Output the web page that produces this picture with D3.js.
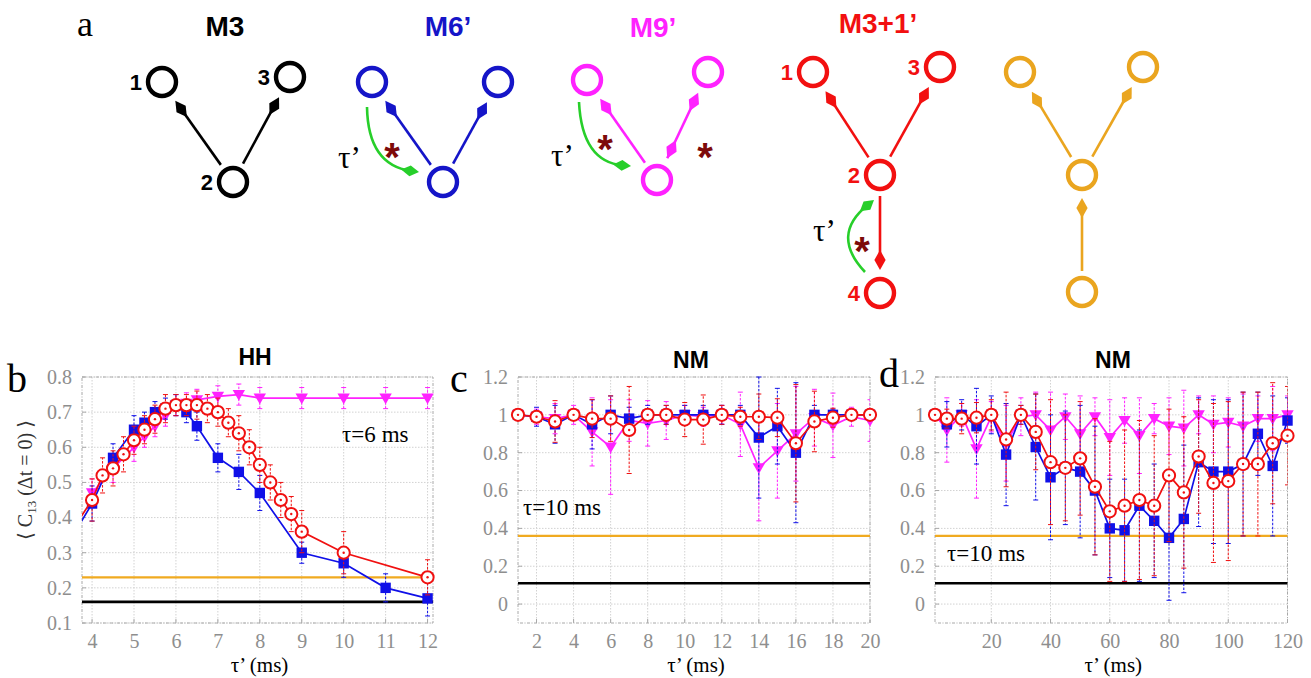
<!DOCTYPE html>
<html>
<head>
<meta charset="utf-8">
<script src="https://cdn.jsdelivr.net/npm/d3@7"></script>
<style>
  body { margin: 0; background: #ffffff; }
  svg { display: block; }
</style>
</head>
<body>
<svg id="fig" width="1311" height="678"></svg>
<script>
// ---------- panel b (HH, tau = 6 ms) ----------
const hhTauM6  = [3.5, 4, 4.5, 5, 5.25, 5.5, 5.75, 6, 6.25, 6.5, 7, 7.5, 8, 9, 10, 11, 12];
const hhM6     = [0.34, 0.44, 0.57, 0.65, 0.67, 0.70, 0.71, 0.72, 0.70, 0.66, 0.57, 0.53, 0.47, 0.30, 0.27, 0.20, 0.17];
const hhM6Err  = [0.04, 0.05, 0.04, 0.04, 0.03, 0.03, 0.03, 0.03, 0.03, 0.04, 0.04, 0.05, 0.05, 0.03, 0.04, 0.04, 0.05];

const hhTauM31 = [3.5, 4, 4.25, 4.5, 4.75, 5, 5.25, 5.5, 5.75, 6, 6.25, 6.5, 6.75, 7, 7.25, 7.5, 7.75, 8, 8.25, 8.5, 8.75, 9, 10, 12];
const hhM31    = [0.36, 0.45, 0.52, 0.54, 0.58, 0.62, 0.65, 0.68, 0.71, 0.72, 0.72, 0.72, 0.71, 0.70, 0.67, 0.64, 0.60, 0.55, 0.50, 0.45, 0.41, 0.36, 0.30, 0.23];
const hhM31Err = [0.05, 0.06, 0.05, 0.05, 0.05, 0.04, 0.04, 0.04, 0.04, 0.03, 0.03, 0.04, 0.04, 0.04, 0.04, 0.05, 0.05, 0.05, 0.05, 0.05, 0.05, 0.06, 0.06, 0.05];

const hhTauM9  = [4, 4.5, 5, 5.25, 5.5, 5.75, 6, 6.25, 6.5, 7, 7.5, 8, 9, 10, 11, 12];
const hhM9     = [0.47, 0.54, 0.60, 0.63, 0.66, 0.69, 0.72, 0.725, 0.735, 0.745, 0.75, 0.74, 0.74, 0.74, 0.74, 0.74];
const hhM9Err  = [0.04, 0.04, 0.04, 0.03, 0.03, 0.03, 0.03, 0.03, 0.03, 0.03, 0.03, 0.03, 0.03, 0.03, 0.03, 0.03];

const hhRefM3  = 0.16;   // black line
const hhRefY   = 0.23;   // orange line

// ---------- panel c (NM, tau = 10 ms) ----------
const nmShortTau   = [1, 2, 3, 4, 5, 6, 7, 8, 9, 10, 11, 12, 13, 14, 15, 16, 17, 18, 19, 20];
const nmShortM6    = [1.0, 0.99, 0.95, 1.0, 0.95, 1.0, 0.98, 1.0, 1.0, 1.0, 1.0, 1.0, 1.0, 0.88, 0.94, 0.80, 1.0, 1.0, 1.0, 1.0];
const nmShortM6Err = [0.01, 0.05, 0.10, 0.02, 0.13, 0.10, 0.06, 0.05, 0.05, 0.05, 0.05, 0.05, 0.05, 0.32, 0.20, 0.37, 0.05, 0.03, 0.03, 0.03];
const nmShortM31   = [1.0, 0.99, 0.965, 1.0, 0.98, 0.98, 0.92, 1.0, 1.0, 0.975, 0.975, 1.0, 0.99, 0.99, 0.985, 0.85, 0.965, 0.985, 1.0, 1.0];
const nmShortM31Err= [0.01, 0.03, 0.11, 0.02, 0.10, 0.12, 0.23, 0.03, 0.05, 0.09, 0.13, 0.05, 0.05, 0.12, 0.10, 0.31, 0.16, 0.05, 0.03, 0.03];
const nmShortM9    = [1.0, 0.99, 0.98, 1.0, 0.91, 0.83, 0.97, 0.955, 0.97, 1.0, 0.99, 1.0, 0.95, 0.72, 0.81, 0.90, 0.985, 0.945, 0.99, 0.97];
const nmShortM9Err = [0.02, 0.04, 0.08, 0.05, 0.18, 0.25, 0.11, 0.12, 0.10, 0.05, 0.05, 0.05, 0.17, 0.28, 0.25, 0.25, 0.15, 0.17, 0.05, 0.11];

// ---------- panel d (NM, tau = 10 ms, long tau') ----------
const nmLongTau    = [1, 5, 10, 15, 20, 25, 30, 35, 40, 45, 50, 55, 60, 65, 70, 75, 80, 85, 90, 95, 100, 105, 110, 115, 120];
const nmLongM6     = [1.0, 0.95, 1.0, 0.94, 1.0, 0.79, 1.0, 0.83, 0.67, 0.72, 0.70, 0.60, 0.40, 0.39, 0.52, 0.44, 0.35, 0.45, 0.75, 0.70, 0.70, 0.74, 0.90, 0.73, 0.97];
const nmLongM6Err  = [0.02, 0.12, 0.08, 0.20, 0.10, 0.27, 0.05, 0.28, 0.33, 0.30, 0.35, 0.34, 0.26, 0.27, 0.40, 0.30, 0.33, 0.39, 0.34, 0.38, 0.38, 0.38, 0.22, 0.37, 0.12];
const nmLongM31    = [1.0, 0.98, 0.98, 0.985, 1.0, 0.87, 1.0, 0.91, 0.75, 0.72, 0.77, 0.62, 0.49, 0.52, 0.55, 0.52, 0.68, 0.59, 0.78, 0.64, 0.65, 0.74, 0.74, 0.85, 0.89];
const nmLongM31Err = [0.02, 0.05, 0.08, 0.08, 0.08, 0.25, 0.05, 0.20, 0.33, 0.28, 0.30, 0.36, 0.37, 0.40, 0.42, 0.37, 0.35, 0.40, 0.30, 0.42, 0.42, 0.38, 0.38, 0.32, 0.26];
const nmLongM9     = [1.0, 0.92, 1.0, 0.82, 0.99, 0.85, 0.99, 1.0, 0.92, 0.99, 0.90, 0.99, 0.88, 0.97, 0.89, 0.98, 0.94, 0.93, 1.0, 0.95, 0.96, 0.94, 0.98, 0.98, 1.0];
const nmLongM9Err  = [0.02, 0.17, 0.06, 0.26, 0.08, 0.20, 0.10, 0.12, 0.20, 0.12, 0.20, 0.10, 0.20, 0.12, 0.20, 0.08, 0.15, 0.20, 0.10, 0.15, 0.13, 0.17, 0.12, 0.17, 0.10];

const nmRefM3 = 0.11;   // black line
const nmRefY  = 0.36;   // orange line

// tick labels
const hhXTicks = [4, 5, 6, 7, 8, 9, 10, 11, 12];
const hhYTicks = [0.1, 0.2, 0.3, 0.4, 0.5, 0.6, 0.7, 0.8];
const nmShortXTicks = [2, 4, 6, 8, 10, 12, 14, 16, 18, 20];
const nmLongXTicks  = [20, 40, 60, 80, 100, 120];
const nmYTicks = [0, 0.2, 0.4, 0.6, 0.8, 1, 1.2];

// ---------- styling ----------
const C = {
  m6: "#1010e8",
  m31: "#f01010",
  m9: "#ff22ff",
  yref: "#f0aa20",
  m3: "#000000",
  green: "#27cf2a",
  star: "#7d0a0a",
  grid: "#d2d2d2",
  frame: "#a8a8a8",
  tick: "#8e8e8e"
};
const SERIF = "Liberation Serif, Times New Roman, DejaVu Serif, serif";
const SANS = "Liberation Sans, Arial, Helvetica, sans-serif";

const svg = d3.select("#fig");

function zip(t, v, e) { return t.map((d, i) => ({ t: d, v: v[i], e: e[i] })); }

function drawPanel(p) {
  const g = svg.append("g");
  const x = d3.scaleLinear().domain(p.xDomain).range([p.left, p.right]);
  const y = d3.scaleLinear().domain(p.yDomain).range([p.bottom, p.top]);
  const clipId = "clip-" + p.id;
  g.append("clipPath").attr("id", clipId).append("rect")
    .attr("x", p.left).attr("y", p.top - 2)
    .attr("width", p.right - p.left).attr("height", p.bottom - p.top + 4);

  // grid
  g.append("g").selectAll("line").data(p.xTicks).join("line")
    .attr("x1", d => x(d)).attr("x2", d => x(d))
    .attr("y1", p.top).attr("y2", p.bottom)
    .attr("stroke", C.grid).attr("stroke-width", 1).attr("stroke-dasharray", "1.5,1.5");
  g.append("g").selectAll("line").data(p.yTicks).join("line")
    .attr("x1", p.left).attr("x2", p.right)
    .attr("y1", d => y(d)).attr("y2", d => y(d))
    .attr("stroke", C.grid).attr("stroke-width", 1).attr("stroke-dasharray", "1.5,1.5");

  // frame
  g.append("rect").attr("x", p.left).attr("y", p.top)
    .attr("width", p.right - p.left).attr("height", p.bottom - p.top)
    .attr("fill", "none").attr("stroke", C.frame).attr("stroke-width", 1)
    .attr("stroke-dasharray", "3,1.5,1,1.5");

  // small inward ticks
  g.append("g").selectAll("line").data(p.xTicks).join("line")
    .attr("x1", d => x(d)).attr("x2", d => x(d))
    .attr("y1", p.bottom).attr("y2", p.bottom - 4)
    .attr("stroke", C.frame).attr("stroke-width", 1);
  g.append("g").selectAll("line").data(p.yTicks).join("line")
    .attr("x1", p.left).attr("x2", p.left + 4)
    .attr("y1", d => y(d)).attr("y2", d => y(d))
    .attr("stroke", C.frame).attr("stroke-width", 1);

  // axes (labels only)
  const xa = g.append("g").attr("transform", `translate(0,${p.bottom})`)
    .call(d3.axisBottom(x).tickValues(p.xTicks).tickSize(0).tickPadding(11).tickFormat(d3.format("d")));
  xa.select(".domain").remove();
  xa.attr("font-family", null).attr("font-size", null);
  xa.selectAll("text").style("font-family", SERIF).style("font-size", "20px").attr("fill", C.tick);

  const ya = g.append("g").attr("transform", `translate(${p.left},0)`)
    .call(d3.axisLeft(y).tickValues(p.yTicks).tickSize(0).tickPadding(10).tickFormat(p.yFormat));
  ya.select(".domain").remove();
  ya.attr("font-family", null).attr("font-size", null);
  ya.selectAll("text").style("font-family", SERIF).style("font-size", "20px").attr("fill", C.tick);

  // reference levels
  g.append("line").attr("x1", p.left).attr("x2", p.right)
    .attr("y1", y(p.refY)).attr("y2", y(p.refY))
    .attr("stroke", C.yref).attr("stroke-width", 2.2);
  g.append("line").attr("x1", p.left).attr("x2", p.right)
    .attr("y1", y(p.refM3)).attr("y2", y(p.refM3))
    .attr("stroke", C.m3).attr("stroke-width", 2.6);

  const inX = d => d.t >= p.xDomain[0] - 1e-9 && d.t <= p.xDomain[1] + 1e-9;

  p.series.forEach((s, si) => {
    const data = s.data;
    const sg = g.append("g");
    // error bars
    const eb = sg.append("g").attr("clip-path", `url(#${clipId})`);
    const vis = data.filter(inX);
    eb.selectAll("line.bar").data(vis).join("line").attr("class", "bar")
      .attr("x1", d => x(d.t)).attr("x2", d => x(d.t))
      .attr("y1", d => y(d.v - d.e)).attr("y2", d => y(d.v + d.e))
      .attr("stroke", s.color).attr("stroke-width", 1).attr("stroke-dasharray", "2.5,1.5")
      .attr("stroke-dashoffset", si * 1.3);
    eb.selectAll("line.capT").data(vis).join("line").attr("class", "capT")
      .attr("x1", d => x(d.t) - 2.5).attr("x2", d => x(d.t) + 2.5)
      .attr("y1", d => y(d.v + d.e)).attr("y2", d => y(d.v + d.e))
      .attr("stroke", s.color).attr("stroke-width", 1);
    eb.selectAll("line.capB").data(vis).join("line").attr("class", "capB")
      .attr("x1", d => x(d.t) - 2.5).attr("x2", d => x(d.t) + 2.5)
      .attr("y1", d => y(d.v - d.e)).attr("y2", d => y(d.v - d.e))
      .attr("stroke", s.color).attr("stroke-width", 1);
    // connecting line
    sg.append("path").datum(data).attr("clip-path", `url(#${clipId})`)
      .attr("d", d3.line().x(d => x(d.t)).y(d => y(d.v)))
      .attr("fill", "none").attr("stroke", s.color).attr("stroke-width", 1.7);
    // markers
    const m = sg.append("g").selectAll("g").data(vis).join("g")
      .attr("transform", d => `translate(${x(d.t)},${y(d.v)})`);
    if (s.kind === "square") {
      m.append("rect").attr("x", -5.2).attr("y", -5.2).attr("width", 10.4).attr("height", 10.4)
        .attr("fill", s.color);
    } else if (s.kind === "circle") {
      m.append("circle").attr("r", 6.1).attr("fill", "#ffffff")
        .attr("stroke", s.color).attr("stroke-width", 2);
      m.append("circle").attr("r", 1.2).attr("fill", s.color);
    } else {
      m.append("path").attr("d", "M-6.2,-4.6L6.2,-4.6L0,6.2Z").attr("fill", s.color);
    }
  });

  // titles and annotations
  g.append("text").attr("x", p.titleX).attr("y", p.titleY).attr("text-anchor", "middle")
    .attr("font-family", SANS).attr("font-weight", "bold").attr("font-size", 23)
    .text(p.title);
  g.append("text").attr("x", p.letterX).attr("y", p.letterY)
    .attr("font-family", SERIF).attr("font-size", 40).text(p.letter);
  const note = g.append("text").attr("x", p.noteX).attr("y", p.noteY)
    .attr("font-family", SERIF).attr("font-size", 23);
  note.append("tspan").text(p.note);
  note.append("tspan").attr("dx", 6).text("ms");
  g.append("text").attr("x", (p.left + p.right) / 2 + 2).attr("y", 672).attr("text-anchor", "middle")
    .attr("font-family", SERIF).attr("font-size", 21).text("τ’ (ms)");
}

drawPanel({
  id: "hh", left: 82, right: 433, top: 377, bottom: 623,
  xDomain: [3.76, 12.13], yDomain: [0.1, 0.8],
  xTicks: hhXTicks, yTicks: hhYTicks, yFormat: d3.format(".1f"),
  refY: hhRefY, refM3: hhRefM3,
  series: [
    { kind: "tri", color: C.m9, data: zip(hhTauM9, hhM9, hhM9Err) },
    { kind: "square", color: C.m6, data: zip(hhTauM6, hhM6, hhM6Err) },
    { kind: "circle", color: C.m31, data: zip(hhTauM31, hhM31, hhM31Err) }
  ],
  title: "HH", titleX: 255, titleY: 365,
  letter: "b", letterX: 7, letterY: 392,
  note: "τ=6", noteX: 342, noteY: 442
});

drawPanel({
  id: "nm1", left: 518, right: 870, top: 377, bottom: 623,
  xDomain: [1, 20], yDomain: [-0.1, 1.2],
  xTicks: nmShortXTicks, yTicks: nmYTicks, yFormat: d => d3.format("~g")(d),
  refY: nmRefY, refM3: nmRefM3,
  series: [
    { kind: "tri", color: C.m9, data: zip(nmShortTau, nmShortM9, nmShortM9Err) },
    { kind: "square", color: C.m6, data: zip(nmShortTau, nmShortM6, nmShortM6Err) },
    { kind: "circle", color: C.m31, data: zip(nmShortTau, nmShortM31, nmShortM31Err) }
  ],
  title: "NM", titleX: 691, titleY: 368,
  letter: "c", letterX: 450, letterY: 392,
  note: "τ=10", noteX: 523, noteY: 515
});

drawPanel({
  id: "nm2", left: 935, right: 1287.5, top: 377, bottom: 623,
  xDomain: [1, 120], yDomain: [-0.1, 1.2],
  xTicks: nmLongXTicks, yTicks: nmYTicks, yFormat: d => d3.format("~g")(d),
  refY: nmRefY, refM3: nmRefM3,
  series: [
    { kind: "tri", color: C.m9, data: zip(nmLongTau, nmLongM9, nmLongM9Err) },
    { kind: "square", color: C.m6, data: zip(nmLongTau, nmLongM6, nmLongM6Err) },
    { kind: "circle", color: C.m31, data: zip(nmLongTau, nmLongM31, nmLongM31Err) }
  ],
  title: "NM", titleX: 1113, titleY: 368,
  letter: "d", letterX: 879, letterY: 387,
  note: "τ=10", noteX: 947, noteY: 561
});

// shared y label
const yl = svg.append("text").attr("transform", "translate(32,480) rotate(-90)")
  .attr("text-anchor", "middle").attr("font-family", SERIF).attr("font-size", 20).attr("fill", "#333");
yl.append("tspan").text("⟨ C");
yl.append("tspan").attr("font-size", 13).attr("dy", 4).text("13");
yl.append("tspan").attr("dy", -4).text(" (Δt = 0) ⟩");

// ---------- panel a: motif schematics ----------
const motifs = [
  { color: "#000000", title: "M3", tx: 225, ty: 36,
    nodes: [[162, 82, "1"], [290, 77, "3"], [233, 182, "2"]],
    edges: [[2, 0, false], [2, 1, false]] },
  { color: "#1515c8", title: "M6’", tx: 448, ty: 36,
    nodes: [[372, 82], [498, 82], [443, 182]],
    edges: [[2, 0, false], [2, 1, false]],
    curve: [[367, 107], [368, 165], [419, 172]], tau: [338, 168], stars: [[392, 148]] },
  { color: "#ff22ff", title: "M9’", tx: 653, ty: 37,
    nodes: [[587, 80], [708, 72], [657, 180]],
    edges: [[2, 0, false], [2, 1, true]],
    curve: [[579, 102], [582, 162], [631, 166]], tau: [551, 166], stars: [[605, 140], [705, 148]] },
  { color: "#f21010", title: "M3+1’", tx: 878, ty: 33,
    nodes: [[813, 72, "1"], [940, 67, "3"], [880, 175, "2"], [880, 293, "4"]],
    edges: [[2, 0, false], [2, 1, false], [2, 3, false]],
    curve: [[865, 272], [830, 235], [874, 200]], tau: [813, 241], stars: [[862, 242]] },
  { color: "#eaa51f", title: "", tx: 0, ty: 0,
    nodes: [[1020, 72], [1143, 67], [1082, 175], [1082, 292]],
    edges: [[2, 0, false], [2, 1, false], [3, 2, false]] }
];

const ga = svg.append("g");
ga.append("text").attr("x", 77).attr("y", 36).attr("font-family", SERIF).attr("font-size", 36).text("a");

function headPath(tx, ty, ux, uy, len, wid) {
  // kite-shaped head with tip at (tx,ty) pointing along (ux,uy)
  const px = -uy, py = ux;
  const mx = tx - ux * len * 0.5, my = ty - uy * len * 0.5;
  const bx = tx - ux * len, by = ty - uy * len;
  return `M${tx},${ty}L${mx + px * wid},${my + py * wid}L${bx},${by}L${mx - px * wid},${my - py * wid}Z`;
}

const R = 14;
motifs.forEach(mf => {
  const g = ga.append("g");
  mf.edges.forEach(([s, t, both]) => {
    const [sx, sy] = mf.nodes[s], [tx, ty] = mf.nodes[t];
    const dx = tx - sx, dy = ty - sy, L = Math.hypot(dx, dy);
    const ux = dx / L, uy = dy / L;
    const gapS = both ? 24 : 21, gapT = 23;
    const ax = sx + ux * gapS, ay = sy + uy * gapS;
    const bx = tx - ux * gapT, by = ty - uy * gapT;
    g.append("line").attr("x1", ax).attr("y1", ay).attr("x2", bx - ux * 8).attr("y2", by - uy * 8)
      .attr("stroke", mf.color).attr("stroke-width", 2.6);
    g.append("path").attr("d", headPath(bx, by, ux, uy, 20, 5.6)).attr("fill", mf.color);
    if (both) g.append("path").attr("d", headPath(ax, ay, -ux, -uy, 20, 5.6)).attr("fill", mf.color);
  });
  mf.nodes.forEach(n => {
    g.append("circle").attr("cx", n[0]).attr("cy", n[1]).attr("r", R)
      .attr("fill", "#ffffff").attr("stroke", mf.color).attr("stroke-width", 4.4);
    if (n[2]) g.append("text").attr("x", n[0] - 20).attr("y", n[1] + 8).attr("text-anchor", "end")
      .attr("font-family", SANS).attr("font-weight", "bold").attr("font-size", 22)
      .attr("fill", mf.color).text(n[2]);
  });
  if (mf.title) g.append("text").attr("x", mf.tx).attr("y", mf.ty).attr("text-anchor", "middle")
    .attr("font-family", SANS).attr("font-weight", "bold").attr("font-size", 28)
    .attr("fill", mf.color).text(mf.title);
  if (mf.curve) {
    const [p0, p1, p2] = mf.curve;
    const ux0 = p2[0] - p1[0], uy0 = p2[1] - p1[1], L = Math.hypot(ux0, uy0);
    const ux = ux0 / L, uy = uy0 / L;
    const ex = p2[0] - ux * 8, ey = p2[1] - uy * 8;
    g.append("path").attr("d", `M${p0[0]},${p0[1]}Q${p1[0]},${p1[1]} ${ex},${ey}`)
      .attr("fill", "none").attr("stroke", C.green).attr("stroke-width", 2.6);
    g.append("path").attr("d", headPath(p2[0], p2[1], ux, uy, 18, 5.4)).attr("fill", C.green);
    g.append("text").attr("x", mf.tau[0]).attr("y", mf.tau[1])
      .attr("font-family", SERIF).attr("font-size", 31).text("τ’");
    mf.stars.forEach(s => g.append("text").attr("x", s[0]).attr("y", s[1] + 23)
      .attr("text-anchor", "middle").attr("font-family", SANS).attr("font-weight", "bold")
      .attr("font-size", 40).attr("fill", C.star).text("*"));
  }
});
</script>
</body>
</html>
